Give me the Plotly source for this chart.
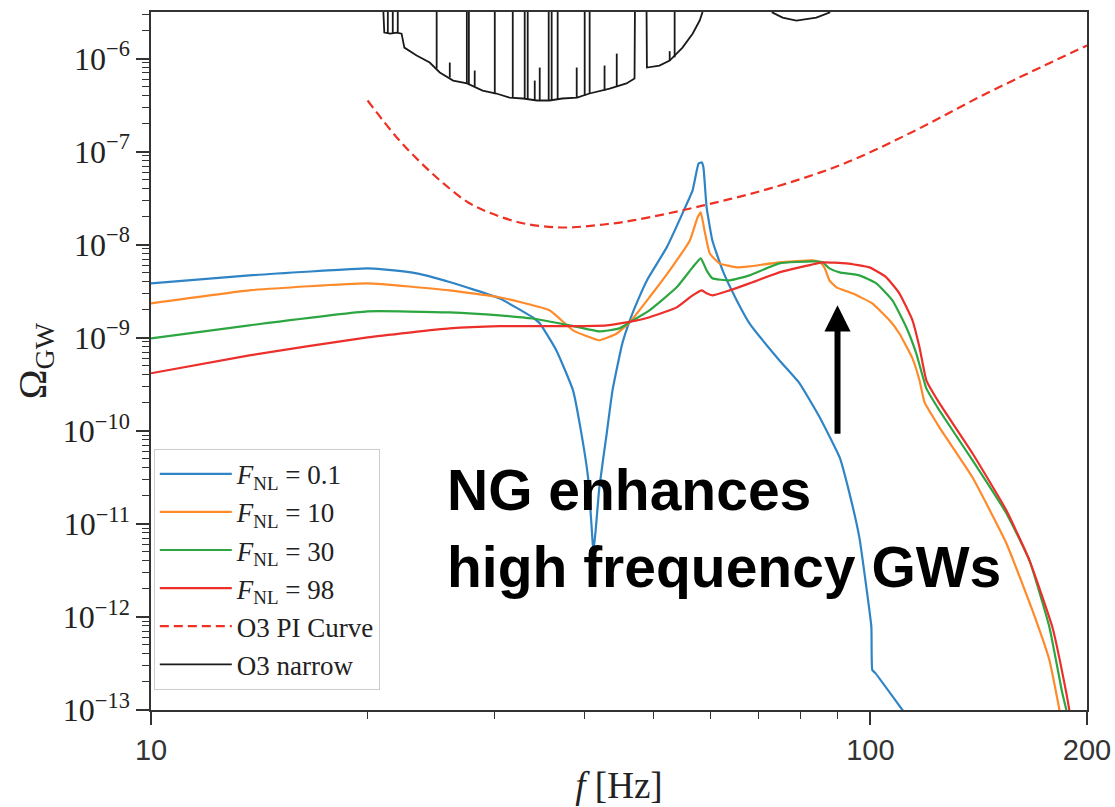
import math
import plotly.graph_objects as go

# ---- GW spectra Omega_GW(f) for several F_NL values ----
freq_fnl_01 = [10, 13.7, 20.0, 21.0, 23.4, 26.0, 30.5, 33.9, 34.7, 36.6, 38.6, 39.8, 40.5, 41.0,
               41.2, 41.5, 42.0, 43.0, 43.8, 45.2, 46.3, 47.5, 48.9, 52.1, 54.8, 56.6, 57.7, 58.3,
               58.6, 59.2, 60.3, 62.3, 65.2, 67.9, 74.7, 79.7, 85.0, 90.6, 93.5, 96.5, 98.7, 100.3,
               100.6, 101.6, 110.8, 120.8]
omega_fnl_01 = [3.84e-9, 4.68e-9, 5.56e-9, 5.43e-9, 4.92e-9, 3.97e-9, 2.65e-9, 1.66e-9, 1.43e-9,
                7.3e-10, 2.72e-10, 7.9e-11, 3.17e-11, 8.5e-12, 4.97e-12, 8.5e-12, 2.48e-11, 9.4e-11,
                2.72e-10, 8.7e-10, 1.54e-9, 2.52e-9, 4.13e-9, 9.35e-9, 2.17e-8, 3.83e-8, 7.46e-8,
                7.64e-8, 6.76e-8, 2.51e-8, 1.11e-8, 5.30e-9, 2.52e-9, 1.43e-9, 5.73e-10, 3.24e-10,
                1.40e-10, 5.2e-11, 2.14e-11, 7.2e-12, 2.09e-12, 7.8e-13, 2.69e-13, 2.49e-13, 1.0e-13,
                4.0e-14]

freq_fnl_10 = [10, 13.7, 20.0, 26.0, 30.5, 35.8, 38.6, 42.0, 44.4, 46.3, 49.3, 52.6, 56.1, 57.5,
               58.1, 58.8, 59.8, 61.7, 65.2, 67.9, 74.7, 83.1, 85.0, 86.3, 87.7, 89.7, 94.4, 100.6,
               106.3, 109.7, 114.4, 117.0, 118.9, 124.7, 138.6, 154.5, 167.9, 177.3, 183.1, 184.8]
omega_fnl_10 = [2.34e-9, 3.23e-9, 3.84e-9, 3.23e-9, 2.72e-9, 1.97e-9, 1.20e-9, 9.4e-10, 1.11e-9,
                1.47e-9, 2.72e-9, 5.30e-9, 1.11e-8, 1.96e-8, 2.22e-8, 1.42e-8, 8.05e-9, 6.30e-9,
                5.70e-9, 5.85e-9, 6.46e-9, 6.78e-9, 6.46e-9, 5.70e-9, 4.13e-9, 3.48e-9, 3.0e-9,
                2.34e-9, 1.54e-9, 1.11e-9, 6.0e-10, 3.49e-10, 2.03e-10, 1.09e-10, 3.17e-11, 6.2e-12,
                1.18e-12, 3.44e-13, 1.0e-13, 6.1e-14]

freq_fnl_30 = [10, 13.7, 20.0, 26.0, 30.5, 33.9, 38.2, 42.0, 44.8, 46.3, 49.3, 53.8, 56.6, 58.1,
               59.2, 60.3, 63.7, 67.9, 74.7, 83.1, 85.8, 87.7, 90.6, 96.5, 101.9, 107.3, 112.2,
               115.8, 119.6, 124.7, 138.6, 154.5, 166.3, 177.3, 184.8, 187.2, 188.4]
omega_fnl_30 = [9.86e-10, 1.36e-9, 1.92e-9, 1.87e-9, 1.74e-9, 1.61e-9, 1.36e-9, 1.17e-9, 1.26e-9,
                1.47e-9, 1.97e-9, 3.48e-9, 5.70e-9, 7.13e-9, 5.30e-9, 4.35e-9, 4.13e-9, 4.68e-9,
                6.30e-9, 6.61e-9, 6.46e-9, 5.56e-9, 5.04e-9, 4.68e-9, 3.84e-9, 2.52e-9, 1.29e-9,
                6.8e-10, 2.86e-10, 1.66e-10, 4.83e-11, 1.30e-11, 4.07e-12, 7.8e-13, 1.52e-13, 1.0e-13,
                6.9e-14]

freq_fnl_98 = [10, 13.7, 20.0, 26.0, 30.5, 38.2, 43.0, 46.0, 49.3, 53.8, 56.6, 58.3, 59.2, 60.3,
               63.7, 67.9, 74.7, 79.7, 85.8, 92.6, 99.7, 105.2, 109.7, 114.4, 117.0, 119.6, 124.7,
               138.6, 154.5, 166.3, 179.0, 187.2, 189.0, 190.2]
omega_fnl_98 = [4.15e-10, 6.47e-10, 1.01e-9, 1.26e-9, 1.33e-9, 1.33e-9, 1.36e-9, 1.47e-9, 1.66e-9,
                2.12e-9, 2.85e-9, 3.23e-9, 3.0e-9, 2.85e-9, 3.23e-9, 3.84e-9, 5.04e-9, 5.70e-9,
                6.46e-9, 6.30e-9, 5.70e-9, 4.46e-9, 3.0e-9, 1.54e-9, 7.9e-10, 3.49e-10, 1.98e-10,
                5.74e-11, 1.40e-11, 4.07e-12, 7.8e-13, 1.52e-13, 1.0e-13, 6.9e-14]

# ---- O3 power-integrated sensitivity curve ----
freq_o3_pi = [20.0, 21.96, 23.7, 25.5, 27.6, 29.7, 33.0, 37.2, 41.4, 46.7, 58.6, 73.3, 92.0,
              115.5, 144.9, 200]
omega_o3_pi = [3.54e-7, 1.42e-7, 7.64e-8, 4.55e-8, 2.84e-8, 2.17e-8, 1.69e-8, 1.53e-8, 1.61e-8,
               1.82e-8, 2.64e-8, 4.12e-8, 7.46e-8, 1.69e-7, 4.21e-7, 1.38e-6]

# ---- O3 narrow-band sensitivity: floor plus spectral lines ----
freq_o3_narrow = [20.9, 21.1, 21.5, 21.96, 22.3, 22.5, 23.4, 24.4, 25.2, 26.3, 27.5, 28.9, 30.2,
                  31.5, 32.9, 34.4, 35.8, 37.3, 39.1, 40.7, 43.4, 45.8, 47.0, 47.1, 48.8, 48.9,
                  50.9, 52.6, 54.8, 56.6, 57.9, 58.4, 58.8, 65.0, 72.8, 73.1, 75.5, 78.9, 84.1,
                  87.7, 88.5]
omega_o3_narrow = [1e-5, 1.9e-6, 1.85e-6, 1.9e-6, 1.85e-6, 1.31e-6, 1.08e-6, 9.06e-7, 7.08e-7,
                   5.8e-7, 5.4e-7, 4.53e-7, 4.21e-7, 3.81e-7, 3.72e-7, 3.54e-7, 3.54e-7, 3.72e-7,
                   3.81e-7, 4.21e-7, 4.76e-7, 5.4e-7, 6.1e-7, 1e-5, 1e-5, 8.0e-7, 8.4e-7, 9.5e-7,
                   1.31e-6, 1.85e-6, 2.56e-6, 3.12e-6, 1e-5, 1e-5, 4e-6, 3.12e-6, 2.75e-6, 2.56e-6,
                   2.75e-6, 3.12e-6, 4e-6]
line_freq = [21.34, 21.68, 22.03, 24.95, 26.02, 27.48, 27.66, 28.18, 30.05, 31.83, 33.07, 33.39,
             34.15, 34.7, 35.71, 36.05, 36.75, 39.06, 40.07, 40.71, 42.7, 44.4, 52.6, 53.44]
line_base = [1.85e-6, 1.85e-6, 1.9e-6, 7.8e-7, 6.25e-7, 5.4e-7, 5.3e-7, 5.0e-7, 4.21e-7, 3.81e-7,
             3.72e-7, 3.63e-7, 3.54e-7, 3.54e-7, 3.54e-7, 3.54e-7, 3.63e-7, 3.81e-7, 4.0e-7,
             4.21e-7, 4.53e-7, 5.0e-7, 9.5e-7, 1.03e-6]
line_top = [1e-5, 1e-5, 1e-5, 1e-5, 9.06e-7, 1e-5, 1e-5, 7.43e-7, 1e-5, 1e-5, 1e-5, 1e-5, 5.8e-7,
            8.0e-7, 1e-5, 1e-5, 1e-5, 8.0e-7, 1e-5, 1e-5, 8.4e-7, 1.13e-6, 1.2e-6, 1e-5]

series_labels = ["<i>F</i><sub>NL</sub> = 0.1", "<i>F</i><sub>NL</sub> = 10",
                 "<i>F</i><sub>NL</sub> = 30", "<i>F</i><sub>NL</sub> = 98"]
series_colors = ["#2f84c6", "#ff8a2a", "#2ba640", "#ec2f2a"]

x_tick_vals = [10, 100, 200]
x_tick_text = ["10", "100", "200"]
y_tick_exps = [-13, -12, -11, -10, -9, -8, -7, -6]

fig = go.Figure()

spectra = [(freq_fnl_01, omega_fnl_01), (freq_fnl_10, omega_fnl_10),
           (freq_fnl_30, omega_fnl_30), (freq_fnl_98, omega_fnl_98)]
for i, ((fx, oy), name, col) in enumerate(zip(spectra, series_labels, series_colors)):
    fig.add_trace(go.Scatter(x=fx, y=oy, mode="lines", name=name, legendgroup="g%d" % i,
                             line=dict(color=col, width=2.2, shape="spline", smoothing=0.4)))

fig.add_trace(go.Scatter(x=freq_o3_pi, y=omega_o3_pi, mode="lines", name="O3 PI Curve",
                         legendgroup="g4",
                         line=dict(color="#ef3124", width=2.2, dash="9px,5px", shape="spline")))

# floor curve, then each spectral line as its own vertical segment
nx = list(freq_o3_narrow) + [None]
ny = list(omega_o3_narrow) + [None]
for f, b, t in zip(line_freq, line_base, line_top):
    nx += [f, f, None]
    ny += [b, t, None]
fig.add_trace(go.Scatter(x=nx, y=ny, mode="lines", name="O3 narrow", legendgroup="g5",
                         line=dict(color="#1a1a1a", width=1.8)))

y_minor = [k * 10.0 ** e for e in range(-13, -5) for k in range(2, 10) if k * 10.0 ** e < 3.2e-6]
axis_col = "#333333"

fig.update_xaxes(
    type="log", range=[1, math.log10(200)], automargin=False,
    tickvals=x_tick_vals, ticktext=x_tick_text,
    ticks="outside", ticklen=13, tickwidth=1.5, tickcolor=axis_col,
    showline=True, linecolor=axis_col, linewidth=1.5, mirror=True,
    showgrid=False, zeroline=False,
    tickfont=dict(family="Liberation Sans", size=29, color="#333333"),
    minor=dict(tickvals=[20, 30, 40, 50, 60, 70, 80, 90], ticks="outside", ticklen=7,
               tickwidth=1.2, tickcolor=axis_col, showgrid=False),
    title=dict(text="<i>f</i> [Hz]", font=dict(family="Liberation Serif", size=37, color="#222222"),
               standoff=8),
)
fig.update_yaxes(
    type="log", range=[-13, -5.5], automargin=False,
    tickvals=[10.0 ** e for e in y_tick_exps],
    ticktext=["10<sup>\u2212%d</sup>" % (-e) for e in y_tick_exps],
    ticks="outside", ticklen=13, tickwidth=1.5, tickcolor=axis_col,
    showline=True, linecolor=axis_col, linewidth=1.5, mirror=True,
    showgrid=False, zeroline=False,
    tickfont=dict(family="Liberation Serif", size=32, color="#222222"),
    minor=dict(tickvals=y_minor, ticks="outside", ticklen=7, tickwidth=1.2,
               tickcolor=axis_col, showgrid=False),
    title=dict(text="\u03a9<sub>GW</sub>", font=dict(family="Liberation Serif", size=40, color="#222222"),
               standoff=4),
)

fig.update_layout(
    width=1115, height=807,
    font=dict(family="Liberation Serif", size=20, color="#222222"),
    margin=dict(l=151, r=28, t=12, b=97),
    paper_bgcolor="white", plot_bgcolor="white",
    legend=dict(x=0.003, y=0.029, xanchor="left", yanchor="bottom",
                bgcolor="rgba(255,255,255,0.85)", bordercolor="#cccccc", borderwidth=1,
                font=dict(family="Liberation Serif", size=27, color="#222222"),
                itemwidth=72, tracegroupgap=0),
    annotations=[
        dict(text="NG enhances", xref="paper", yref="paper", x=0.314, y=0.315,
             xanchor="left", yanchor="middle", showarrow=False,
             font=dict(family="Liberation Sans", size=57, color="black", weight="bold")),
        dict(text="high frequency GWs", xref="paper", yref="paper", x=0.314, y=0.205,
             xanchor="left", yanchor="middle", showarrow=False,
             font=dict(family="Liberation Sans", size=57, color="black", weight="bold")),
        dict(text="", x=math.log10(90), y=math.log10(2.23e-9), xref="x", yref="y",
             ax=math.log10(90), ay=math.log10(8.95e-11), axref="x", ayref="y",
             showarrow=True, arrowhead=2, arrowsize=0.87, arrowwidth=6, arrowcolor="black",
             font=dict(size=20)),
    ],
)

fig.write_html("out.html")
